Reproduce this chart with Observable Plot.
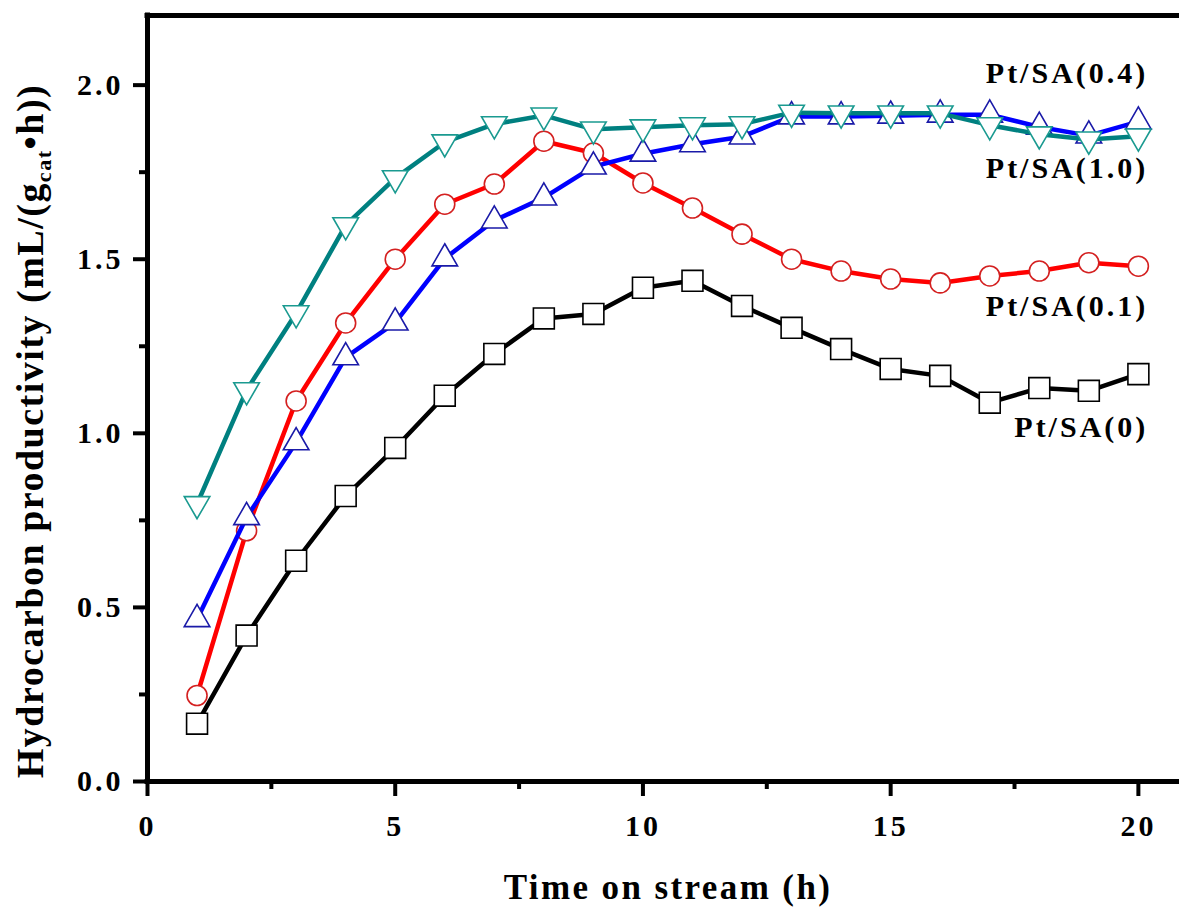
<!DOCTYPE html>
<html><head><meta charset="utf-8">
<script src="https://cdn.jsdelivr.net/npm/d3@7"></script>
<script src="https://cdn.jsdelivr.net/npm/@observablehq/plot@0.6"></script>
<style>
body{margin:0;background:#fff;}
#chart svg text{letter-spacing:3px;}
</style></head><body><div id="chart"></div>
<script>
// Time on stream (h)
const hours = [1,2,3,4,5,6,7,8,9,10,11,12,13,14,15,16,17,18,19,20];
// Hydrocarbon productivity (mL/(g_cat·h))
const pt0  = [0.166,0.419,0.634,0.820,0.958,1.108,1.228,1.330,1.343,1.418,1.438,1.366,1.303,1.242,1.185,1.165,1.088,1.130,1.122,1.170];
const pt01 = [0.247,0.720,1.093,1.317,1.500,1.658,1.716,1.839,1.805,1.719,1.647,1.572,1.500,1.466,1.443,1.432,1.452,1.466,1.490,1.480];
const pt04 = [0.466,0.759,0.974,1.218,1.318,1.502,1.611,1.677,1.766,1.803,1.830,1.852,1.910,1.910,1.912,1.915,1.915,1.880,1.855,1.895];
const pt10 = [0.797,1.124,1.345,1.598,1.733,1.836,1.888,1.913,1.873,1.879,1.885,1.888,1.921,1.919,1.919,1.919,1.885,1.859,1.844,1.853];
const seriesNames = ["Pt/SA(0)","Pt/SA(0.1)","Pt/SA(0.4)","Pt/SA(1.0)"];
// direct labels (data units)
const labelX = [20.2,20.2,20.2,20.2];
const labelY = [0.988,1.338,2.005,1.732];
const xTicks = [0,5,10,15,20];
const xMinor = [2.5,7.5,12.5,17.5];
const yTicks = [0,0.5,1.0,1.5,2.0];
const yMinor = [0.25,0.75,1.25,1.75];

const styles = [
  {line:"#000000", mark:"#000000", symbol:"square", r:11.8, rotate:0},
  {line:"#ff0000", mark:"#d42020", symbol:"circle", r:10, rotate:0},
  {line:"#0000ff", mark:"#1a1aa8", symbol:"triangle", r:9.5, rotate:0},
  {line:"#008080", mark:"#1a9a90", symbol:"triangle", r:9.5, rotate:180}
];
const values = [pt0, pt01, pt04, pt10];
const series = values.map((v,i)=>hours.map((h,j)=>({h, v:v[j], s:seriesNames[i]})));
const labels = seriesNames.map((s,i)=>({s, x:labelX[i], y:labelY[i]}));

const marks = [];
series.forEach((d,i)=>{
  const st = styles[i];
  marks.push(Plot.line(d,{x:"h",y:"v",stroke:st.line,strokeWidth:4.5,strokeLinejoin:"round"}));
  marks.push(Plot.dot(d,{x:"h",y:"v",symbol:st.symbol,r:st.r,rotate:st.rotate,fill:"white",stroke:st.mark,strokeWidth:1.6}));
});

const chart = Plot.plot({
  width:1179, height:911,
  marginLeft:147, marginRight:0, marginTop:15, marginBottom:130,
  style:{fontFamily:"'Liberation Serif','Times New Roman',serif", fontWeight:"bold", background:"#fff", color:"#000"},
  x:{domain:[0,20.83], axis:null},
  y:{domain:[0,2.2], axis:null},
  marks:[
    ...marks,
    Plot.text(labels,{x:"x",y:"y",text:"s",textAnchor:"end",lineAnchor:"bottom",fontSize:30,fontWeight:"bold",fill:"#000"}),
    Plot.axisY({ticks:yTicks, tickSize:14, tickPadding:10, tickFormat:d=>d.toFixed(1), fontSize:30, fontWeight:"bold", strokeWidth:4, label:null}),
    Plot.axisY({ticks:yMinor, tickSize:8, strokeWidth:4, fill:"none", stroke:"black", label:null}),
    Plot.axisX({ticks:xTicks, tickSize:15, tickPadding:18, tickFormat:d=>String(d), fontSize:30, fontWeight:"bold", strokeWidth:4, label:null}),
    Plot.axisX({ticks:xMinor, tickSize:8, strokeWidth:4, fill:"none", stroke:"black", label:null}),
    Plot.ruleX([0],{strokeWidth:5, strokeLinecap:"square"}),
    Plot.ruleY([0],{strokeWidth:5, strokeLinecap:"square"}),
    Plot.ruleY([2.2],{strokeWidth:5, strokeLinecap:"square"})
  ]
});
document.getElementById("chart").appendChild(chart);

const ns = "http://www.w3.org/2000/svg";
const svg = chart.tagName.toLowerCase()==="svg" ? chart : chart.querySelector("svg");
// y-axis title
const yt = document.createElementNS(ns,"text");
yt.setAttribute("transform","translate(43,431) rotate(-90)");
yt.setAttribute("text-anchor","middle");
yt.setAttribute("font-size","38");
yt.setAttribute("font-weight","bold");
yt.setAttribute("fill","#000");
yt.style.letterSpacing = "1.5px";
const t1 = document.createElementNS(ns,"tspan"); t1.textContent = "Hydrocarbon productivity (mL/(g";
const t2 = document.createElementNS(ns,"tspan"); t2.textContent = "cat"; t2.setAttribute("font-size","22"); t2.setAttribute("dy","8");
const t3 = document.createElementNS(ns,"tspan"); t3.textContent = "•h))"; t3.setAttribute("dy","-8");
yt.append(t1,t2,t3);
svg.appendChild(yt);
// x-axis title
const xt = document.createElementNS(ns,"text");
xt.setAttribute("x","668"); xt.setAttribute("y","899");
xt.setAttribute("text-anchor","middle");
xt.setAttribute("font-size","35");
xt.setAttribute("font-weight","bold");
xt.setAttribute("fill","#000");
xt.style.letterSpacing = "2.4px";
xt.textContent = "Time on stream (h)";
svg.appendChild(xt);
</script></body></html>
